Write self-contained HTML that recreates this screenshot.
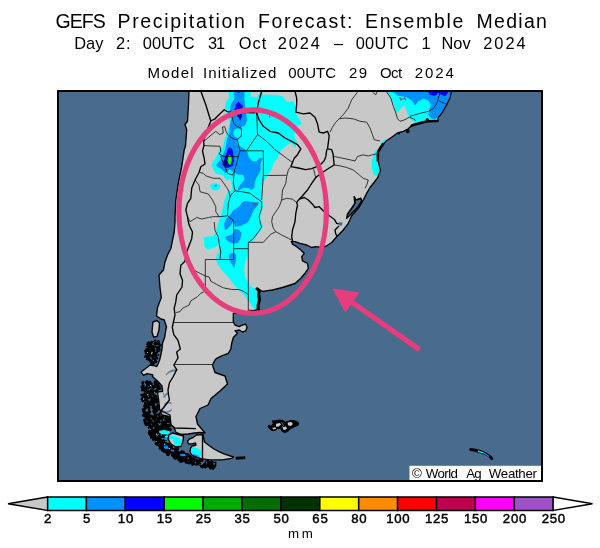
<!DOCTYPE html><html><head><meta charset="utf-8"><title>GEFS Precipitation Forecast</title><style>
html,body{margin:0;padding:0;background:#fff}
body{width:600px;height:548px;position:relative;overflow:hidden;font-family:"Liberation Sans",sans-serif;color:#000}
.t{position:absolute;white-space:nowrap;line-height:1;color:#000}
.c{transform:translateX(-50%)}
svg{position:absolute;left:0;top:0}
</style></head><body>
<svg width="600" height="548" viewBox="0 0 600 548">
<rect x="58" y="91" width="484" height="390" fill="#496c8e"/>
<defs><clipPath id="land"><path d="M189,90 L188.5,104 L187.5,121 L185,124.5 L186.7,129.5 L185.5,146 L184.2,150 L181.7,166.7 L178.3,183.3 L175.8,200 L175,216.7 L175,222 L174.2,232 L172.5,240.3 L170.8,248.7 L167.5,255 L165,262 L163.5,270 L159,275 L160,287.5 L161.3,297.5 L157.5,307.5 L156.5,316 L161,319 L164.3,320 L166.5,327 L165.8,330 L164.6,337.7 L162.6,342.8 L162,349 L160.7,355.5 L159.5,360.6 L156.9,366.5 L155,365.8 L150,365 L146,368.3 L141,372 L143.5,375.3 L147.3,373.6 L152.8,374.9 L152.4,376.5 L157.5,381 L162,386 L162.6,391.3 L157.5,392 L158.8,401 L159.5,408.7 L162,415 L169,416.3 L170.3,424 L174.1,427.8 L176,432.5 L181,434.5 L188,434 L195,433 L200,432.5 L205,433 L197.5,424 L196,416.5 L200,408.5 L208,405 L211,398.5 L220,391 L227.5,384 L225,376 L215,372.5 L212.5,365 L215,360 L216.7,358.3 L221.7,355.8 L228.3,353.3 L230.8,349.2 L231.7,343.3 L233.3,337.5 L237.5,333.3 L235,330.8 L239.2,330 L242.5,332 L245.8,330.8 L247,327.5 L245.8,324.2 L242.5,325 L239.2,326.7 L235,325 L233.3,321.7 L233.3,313.3 L245,312 L257,310 L258,305 L260,297.5 L258,289.5 L262.5,291.3 L272.5,290 L282.5,287.5 L295,283.5 L300.8,278.3 L305,273.3 L308.3,268.3 L307.5,263.3 L302.5,260.8 L301.7,256.7 L304.2,253.3 L300.8,250 L296.7,246.7 L292.5,244.2 L291.3,241.5 L295,241.7 L300,243.3 L306.7,245 L311.7,247.5 L315.8,246.7 L321.7,247.5 L326.7,245.8 L331.7,242.5 L336.7,236.7 L343.3,230 L348.3,223.3 L351.7,215.8 L358.3,208.3 L363.3,200 L366.7,193.3 L370,187.5 L372.5,184.5 L377.5,178 L380.5,170.5 L378.3,161.3 L377.5,154.7 L379.2,149.7 L382.5,145.5 L385.8,141.3 L391.7,137.2 L397.5,133 L403.3,131.3 L408.3,128.8 L411.7,125.5 L416.7,123.8 L423.3,122.2 L428.3,121.3 L437.5,121.3 L438.3,117.2 L442.5,112.2 L446.7,104.7 L450,98 L451.7,90Z"/><path d="M203,434.5 L196.5,435 L193.5,437.3 L189.8,438.8 L187.5,441 L188.5,444 L192,443.8 L195.5,443 L196,445 L192,446 L190.5,448 L190,452 L192,455.5 L197,457.5 L202,458.8 L210,459.8 L222,459.8 L231.8,458.3 L233.5,457 L229,455.5 L224,453.8 L219,451.6 L214,449 L209,445.5 L204.5,442 L203.5,437Z"/><path d="M236,457.3 L245,456.8 L245,458.6 L236,459.2Z"/><path d="M153,322 L157,320.5 L159.5,323 L159,330 L157,336.5 L153.5,337 L152,332 L152.5,326Z"/><path d="M172.5,433 L180,435 L183.5,436 L183,441 L181,446.5 L176,447 L171,444 L168,439 L169,435Z"/></clipPath><clipPath id="frame"><rect x="58" y="91" width="484" height="390"/></clipPath></defs>
<g clip-path="url(#frame)">
<path d="M189,90 L188.5,104 L187.5,121 L185,124.5 L186.7,129.5 L185.5,146 L184.2,150 L181.7,166.7 L178.3,183.3 L175.8,200 L175,216.7 L175,222 L174.2,232 L172.5,240.3 L170.8,248.7 L167.5,255 L165,262 L163.5,270 L159,275 L160,287.5 L161.3,297.5 L157.5,307.5 L156.5,316 L161,319 L164.3,320 L166.5,327 L165.8,330 L164.6,337.7 L162.6,342.8 L162,349 L160.7,355.5 L159.5,360.6 L156.9,366.5 L155,365.8 L150,365 L146,368.3 L141,372 L143.5,375.3 L147.3,373.6 L152.8,374.9 L152.4,376.5 L157.5,381 L162,386 L162.6,391.3 L157.5,392 L158.8,401 L159.5,408.7 L162,415 L169,416.3 L170.3,424 L174.1,427.8 L176,432.5 L181,434.5 L188,434 L195,433 L200,432.5 L205,433 L197.5,424 L196,416.5 L200,408.5 L208,405 L211,398.5 L220,391 L227.5,384 L225,376 L215,372.5 L212.5,365 L215,360 L216.7,358.3 L221.7,355.8 L228.3,353.3 L230.8,349.2 L231.7,343.3 L233.3,337.5 L237.5,333.3 L235,330.8 L239.2,330 L242.5,332 L245.8,330.8 L247,327.5 L245.8,324.2 L242.5,325 L239.2,326.7 L235,325 L233.3,321.7 L233.3,313.3 L245,312 L257,310 L258,305 L260,297.5 L258,289.5 L262.5,291.3 L272.5,290 L282.5,287.5 L295,283.5 L300.8,278.3 L305,273.3 L308.3,268.3 L307.5,263.3 L302.5,260.8 L301.7,256.7 L304.2,253.3 L300.8,250 L296.7,246.7 L292.5,244.2 L291.3,241.5 L295,241.7 L300,243.3 L306.7,245 L311.7,247.5 L315.8,246.7 L321.7,247.5 L326.7,245.8 L331.7,242.5 L336.7,236.7 L343.3,230 L348.3,223.3 L351.7,215.8 L358.3,208.3 L363.3,200 L366.7,193.3 L370,187.5 L372.5,184.5 L377.5,178 L380.5,170.5 L378.3,161.3 L377.5,154.7 L379.2,149.7 L382.5,145.5 L385.8,141.3 L391.7,137.2 L397.5,133 L403.3,131.3 L408.3,128.8 L411.7,125.5 L416.7,123.8 L423.3,122.2 L428.3,121.3 L437.5,121.3 L438.3,117.2 L442.5,112.2 L446.7,104.7 L450,98 L451.7,90Z" fill="#c8c8c8"/>
<path d="M203,434.5 L196.5,435 L193.5,437.3 L189.8,438.8 L187.5,441 L188.5,444 L192,443.8 L195.5,443 L196,445 L192,446 L190.5,448 L190,452 L192,455.5 L197,457.5 L202,458.8 L210,459.8 L222,459.8 L231.8,458.3 L233.5,457 L229,455.5 L224,453.8 L219,451.6 L214,449 L209,445.5 L204.5,442 L203.5,437Z" fill="#c8c8c8"/>
<path d="M236,457.3 L245,456.8 L245,458.6 L236,459.2Z" fill="#c8c8c8"/>
<path d="M153,322 L157,320.5 L159.5,323 L159,330 L157,336.5 L153.5,337 L152,332 L152.5,326Z" fill="#c8c8c8"/>
<path d="M172.5,433 L180,435 L183.5,436 L183,441 L181,446.5 L176,447 L171,444 L168,439 L169,435Z" fill="#c8c8c8"/>
<g clip-path="url(#land)">
<path d="M227.8,90 L229.3,97 L226.3,101.5 L224.8,107.5 L227,114 L230,122.5 L227.8,130 L224.8,139 L222.5,148 L220.5,147 L217,155.2 L211.2,165 L215.8,173.8 L222.8,175 L226.9,180.8 L229.8,178.5 L232.2,184.3 L231.6,191.3 L228.3,190 L225.7,196.7 L223.7,203.3 L222.3,210 L220.3,216.7 L218.3,223.3 L216.3,230 L213.7,236 L203.7,237.3 L204.3,246 L207.7,250 L215,247.3 L218.3,244.7 L219.7,250 L217.7,253 L216.3,256.7 L217,263.3 L221.7,270 L227.7,276.7 L233,283.3 L239,290 L244.3,295.3 L248.3,300.7 L252.3,306 L255,311 L259,311 L259,288.7 L255,288.7 L251,286.7 L247.7,282 L245,276.7 L244.3,270 L245,263.3 L247,256.7 L248.3,250 L248.3,243.3 L252.3,242 L255.7,236.7 L260.3,231.3 L263,226 L260.3,219.3 L261,212.7 L263,206 L262.3,198 L261.7,190 L262.5,186.7 L263.7,180.8 L267.2,176.2 L271.8,169.2 L273.6,163.3 L277.7,157.5 L281,150 L286,146 L291,142.5 L295.3,148 L297,142 L294.5,137.5 L294.5,131.5 L296.8,125.5 L300.5,125.5 L301.3,122.5 L296.8,115 L296,106 L293,101.5 L287,102.3 L282.5,96.3 L275,94.8 L264.5,94.8 L260,94 L258.5,94 L257,97.8 L251,96.3 L250.3,90Z" fill="#00ffff"/>
<path d="M210,186 L212,183.5 L216,183.2 L220,185 L220.5,188 L217,190.2 L212,190Z" fill="#00ffff"/>
<path d="M214.6,185 L216.5,184.6 L217.2,186 L216,187 L214.8,186.6Z" fill="#0091ff"/>
<path d="M233,90 L234.5,98.5 L230.8,104.5 L230,110.5 L231.5,118 L230,125 L229.3,134.5 L227,139 L225.5,148 L224,151.7 L221.7,157.5 L218.2,162.2 L215.8,165.7 L221.7,169.2 L225.2,173.3 L229.8,169.2 L232.2,171.5 L234.5,172.7 L238,174.4 L243.3,175 L244.4,179.7 L241.5,183.2 L238.6,186.7 L238,190.8 L243.8,187.8 L248.5,187.8 L251.4,190.2 L254.3,187.8 L254.9,182 L256.7,177.3 L259,173.8 L260.8,169.2 L260.2,164.5 L262.5,158.7 L260.2,157.5 L256.7,161 L252.6,161.6 L249,157.5 L247.3,151.7 L243.8,148.2 L238,145.8 L236.5,142 L237.5,139.5 L241.3,136 L242,131.5 L240.5,127.8 L245,125.5 L247.3,119.5 L245.8,112 L245,104.5 L244.3,97 L245,90Z" fill="#0091ff"/>
<path d="M234.5,129.5 L238,128.3 L241.3,130 L241.2,135 L238,138 L234.8,137 L233.2,133Z" fill="#00ffff"/>
<path d="M238.3,101.5 L242.8,106 L242,113.5 L240.5,120.3 L237.5,116.5 L234.5,109 L236,104.5Z" fill="#0000ff"/>
<path d="M237,90 L237.5,92.5 L239.5,92.7 L240,90Z" fill="#0000ff"/>
<path d="M237.5,114.3 L240.2,120.7 L242.8,114.3 L240.5,116.5Z" fill="#000082"/>
<path d="M269,115.5 L270.5,115.5 L270.5,117.5 L269,117.5Z" fill="#0091ff"/>
<path d="M229.3,147.6 L232.2,148.8 L233.3,154 L233.9,161 L232.8,165.7 L228.7,167.4 L225.2,168 L222.3,164.5 L224,159.8 L226.3,154 L227.5,149.3Z" fill="#0000ff"/>
<path d="M225,158.5 L227,160 L227.3,166 L225,167.5 L223.3,164.3Z" fill="#000082"/>
<path d="M229.8,154.6 L231.6,157.5 L231.9,161 L230.4,164.7 L228.7,163.9 L227.5,160.4 L228.4,156.3Z" fill="#00ff00"/>
<path d="M229.8,157.5 L230.8,160 L229.8,162.5 L228.9,160Z" fill="#78ff00"/>
<path d="M245,200.7 L252.3,202 L259,202.7 L257.7,205.3 L253.7,210 L251,216.7 L247.7,222.7 L240.3,226 L235,226.7 L233.7,221.3 L230.3,226 L227,229.3 L225,230 L224,224.7 L225.7,219.3 L229.7,215.3 L233.7,210 L239,206.7 L241.7,202.7Z" fill="#0091ff"/>
<path d="M234.3,229.3 L238.3,229.3 L241.7,232.7 L240.3,239.3 L237.7,243.3 L232.3,243.3 L227.7,241.3 L225,237.3 L227,236 L231.7,234.7 L233.7,232Z" fill="#0091ff"/>
<path d="M229,255.3 L231,253.3 L234.3,252.7 L236.3,255.3 L235.7,262 L234.3,268 L231.7,264 L229,260Z" fill="#0091ff"/>
<path d="M385.8,90 L390.8,98 L394.2,104.7 L395.8,113 L399.2,111.3 L401.7,107.2 L405,105.5 L406.7,111.3 L409.2,118 L413.3,121.3 L417.5,124 L430,123 L440,123 L455,110 L455,90Z" fill="#00ffff"/>
<path d="M390.8,90 L397.5,95.5 L406.7,97.2 L411.7,100.5 L415,105.5 L418.3,101.3 L423.3,98.8 L428.3,100.5 L430.8,104.7 L429.2,109.7 L428.3,114.7 L431.7,118.8 L435.8,118.8 L439.2,114.7 L444.2,111.3 L455,100 L455,90Z" fill="#0091ff"/>
<path d="M426.7,90 L430,94.7 L435,96 L438.3,93 L441.7,94.7 L445,96.3 L448.3,92.2 L449,90Z" fill="#0000ff"/>
<path d="M379,150 L381,143 L385,138.5 L388,140.5 L384,147 L381,151Z" fill="#00ffff"/>
<path d="M374,153 L378,148 L381,151 L380,163 L381,171 L378,176 L374,175 L371.5,168 L372,160Z" fill="#00ffff"/>
<path d="M190.5,447 L196,447.5 L201.8,451 L203,455.3 L199,456 L193,453.5 L190,450Z" fill="#00ffff"/>
<path d="M189,453.8 L194,454 L199.5,456 L199,458.5 L193,458 L189,456Z" fill="#0091ff"/>
<path d="M172.5,438 L178,437.5 L181.5,440 L181,446 L177,447 L174,444Z" fill="#00ffff"/>
</g>
<path d="M252.5,203 L258.5,202.5 L256.5,205.5 L254.5,206Z" fill="#5a6478"/>
<path d="M399,97 L400.3,97 L401.2,98.6 L403.8,98 L404,96.8 L405.2,96.8 L406.2,100.6 L405,100.6 L404.3,99.2 L401.5,99.8 L401.8,100.8 L400.5,100.8Z" fill="#66748a"/>
<path d="M146.6,343.4 145.9,344.3 146.2,345.0 147.3,345.3 146.8,346.1 146.2,345.7 145.3,346.5 146.2,347.3 147.0,346.6 147.1,346.8 146.3,348.2 145.5,348.3 145.0,349.9 144.1,350.1 143.8,350.8 144.1,351.5 144.8,351.8 145.5,351.4 145.8,351.5 144.8,351.8 144.6,352.4 144.8,354.0 145.7,354.3 146.8,354.1 146.6,354.8 145.9,354.5 144.6,355.0 144.2,356.9 144.6,357.7 145.4,358.1 147.1,357.6 146.2,358.0 145.8,358.9 146.2,359.9 147.4,360.5 148.1,360.2 148.9,361.5 149.8,361.8 149.6,362.3 150.4,364.2 152.9,365.6 154.1,365.1 154.5,363.7 156.9,362.7 157.4,361.5 156.9,360.2 155.9,359.8 156.3,359.4 157.0,359.7 157.9,359.3 158.6,358.1 158.3,357.4 157.0,357.1 157.5,355.9 157.0,354.6 156.5,354.4 157.8,353.4 158.2,352.4 157.9,351.7 159.0,352.0 160.2,351.5 160.8,348.9 160.5,348.2 159.9,348.0 159.8,347.3 161.2,346.6 161.7,345.4 161.2,344.1 160.4,343.8 159.9,342.7 159.5,342.5 159.9,341.6 159.4,340.5 158.2,340.0 157.0,340.5 156.5,341.6 156.7,342.1 156.3,342.3 155.1,341.8 153.9,342.3 153.4,343.5 153.9,344.7 155.1,345.2 156.6,344.9 158.3,345.1 158.5,346.2 156.6,345.8 155.6,345.2 154.8,345.6 154.5,346.2 154.2,345.3 151.7,344.7 152.4,344.4 152.7,342.8 153.1,342.3 153.9,342.1 154.1,341.5 153.9,340.9 153.3,340.7 152.5,341.3 151.6,340.7 150.8,341.0 149.9,342.2 149.6,341.4 148.7,341.0 147.9,341.4 147.5,342.2 146.6,342.3ZM153.0,361.8 152.6,360.2 150.7,359.2 150.1,358.3 150.4,357.7 150.2,356.4 150.7,356.2 151.0,357.1 151.6,357.4 151.5,358.4 151.9,359.4 153.4,360.1 153.9,359.9 154.4,360.4 153.3,360.9ZM147.5,349.2 148.1,349.5 147.9,350.0ZM149.4,347.9 150.6,347.9 150.1,348.4ZM150.6,345.1 150.4,344.8 151.1,344.9ZM156.1,357.5 156.0,357.7 155.8,357.6ZM154.3,357.7 154.5,357.1 155.1,357.4ZM154.6,351.3 155.5,350.7 155.8,349.9 154.6,348.3 154.6,347.7 155.6,347.8 156.4,348.9 156.1,349.6 156.6,351.2 155.9,351.6ZM154.2,346.9 154.2,347.0 154.0,346.9ZM154.2,357.8 154.2,357.8 154.2,357.8ZM156.1,341.4 156.5,340.6 156.1,339.7 155.2,339.3 154.3,339.7 153.9,340.6 154.3,341.4 155.2,341.8ZM159.2,355.7 159.4,355.0 159.2,354.4 158.5,354.1 157.8,354.4 157.5,355.0 157.8,355.7 158.5,356.0Z" fill="#000"/><path d="M144.6,382.1 146.0,384.8 145.6,386.9 144.6,386.8 144.9,385.9 144.5,384.9 143.5,384.5 144.4,382.4 144.0,381.3 142.9,380.9 141.9,381.3 141.3,382.4 141.6,384.7 142.5,385.1 140.8,385.8 140.3,387.1 141.3,388.9 141.0,390.6 141.3,391.3 142.0,391.6 142.9,390.9 143.7,391.2 143.4,391.9 144.2,392.8 143.4,393.6 140.5,394.2 140.2,395.0 140.5,395.7 141.4,396.0 141.8,396.7 141.8,397.5 140.9,397.9 140.4,399.1 140.9,400.3 141.4,400.5 141.7,402.0 142.8,402.4 143.8,402.0 144.1,401.3 145.2,401.4 144.1,402.3 143.8,403.0 144.3,403.8 144.2,404.6 143.6,404.8 143.1,406.1 143.6,407.5 144.1,407.8 143.6,408.3 143.1,408.1 142.0,408.5 141.6,409.6 142.3,412.5 143.1,412.8 142.9,414.0 142.4,414.2 141.9,415.4 142.4,416.6 144.3,417.4 145.1,417.0 145.3,417.4 144.9,417.5 144.8,418.3 143.5,418.9 143.0,420.2 143.5,421.4 143.9,421.6 143.6,422.4 144.8,425.6 146.2,426.2 147.0,425.8 148.0,426.3 148.9,425.9 149.0,426.2 148.1,426.6 147.7,427.5 148.1,428.4 148.9,428.7 149.8,428.3 150.4,428.7 149.9,428.9 149.5,430.0 148.3,430.0 148.1,430.6 148.9,431.5 149.7,430.9 150.6,431.0 150.8,431.6 150.1,431.3 149.4,431.6 148.6,432.6 148.2,433.7 148.6,434.7 149.1,434.9 149.3,436.1 151.5,436.8 152.8,436.2 153.1,435.4 154.3,434.9 155.1,433.6 156.5,433.1 158.5,433.3 159.6,432.9 160.6,432.4 161.4,430.7 161.9,430.9 162.8,430.5 163.1,429.9 165.1,433.6 166.2,434.1 168.7,433.4 169.1,432.5 168.7,430.6 170.2,431.2 171.4,430.7 171.8,429.5 171.4,428.4 170.3,427.6 168.9,427.3 169.4,426.6 170.2,426.9 171.0,426.6 171.4,425.8 170.9,424.5 168.6,423.7 167.0,424.2 166.9,423.2 169.4,422.8 169.8,421.9 169.0,420.7 169.6,420.5 170.1,419.2 169.6,417.9 168.2,417.4 167.7,416.3 166.3,415.7 165.0,416.3 164.5,417.6 164.7,418.3 164.0,420.0 164.2,420.6 165.0,420.9 164.4,421.2 162.8,420.2 161.6,420.7 161.0,422.0 161.5,423.2 161.0,423.4 160.9,424.5 160.4,424.7 160.0,426.3 159.7,425.6 158.7,425.0 158.2,423.8 157.5,423.5 158.5,422.9 159.2,423.4 160.8,423.2 161.1,422.6 160.5,421.2 159.7,420.8 159.7,419.9 161.4,420.6 162.6,420.1 163.0,419.0 164.2,418.8 164.6,418.0 163.9,417.1 164.4,416.1 164.0,415.2 163.0,414.8 162.1,415.2 161.8,415.7 160.6,415.3 160.0,414.2 160.6,413.9 160.9,413.2 160.6,412.5 159.9,412.1 159.1,412.5 158.8,413.2 155.9,414.1 156.3,412.7 157.9,412.0 158.0,410.7 158.9,410.4 159.7,408.5 158.8,404.2 156.7,403.4 155.6,403.8 155.4,404.3 155.0,403.8 154.9,403.5 155.8,402.8 157.2,403.4 158.6,402.8 159.0,401.6 158.2,398.5 156.7,398.0 157.6,396.8 157.1,395.8 156.5,395.5 156.2,394.7 155.5,394.4 154.7,394.9 154.3,394.1 154.9,392.6 156.0,393.1 156.8,392.7 157.1,391.9 158.0,391.7 158.2,390.5 160.8,389.4 161.2,388.4 160.5,387.2 160.6,386.5 160.2,385.6 159.1,385.2 159.6,384.0 159.4,383.4 157.2,382.5 157.5,381.9 157.3,381.3 156.4,381.2 156.2,380.7 155.1,380.3 154.0,380.7 153.6,381.8 153.9,382.5 153.6,383.2 154.2,384.5 153.0,385.4 152.7,384.7 153.0,383.9 152.7,383.1 151.9,382.8 151.0,381.0 149.8,380.5 148.6,381.2 148.3,380.4 147.2,380.0 146.1,380.4 145.8,381.2 144.9,381.3ZM152.3,424.2 150.5,425.1 151.3,423.2 151.6,423.9ZM152.5,421.5 152.4,419.7 153.6,419.8 153.3,420.6 153.5,421.2 154.5,422.0 153.7,422.5ZM151.4,419.0 150.3,419.6 149.7,419.2 150.6,418.9 150.9,418.1 151.8,418.0 151.9,419.2ZM151.7,414.7 150.0,414.4 149.9,413.7 150.6,413.4 151.6,412.0 150.0,410.1 150.6,408.6 150.1,407.7 150.4,406.9 149.9,405.8 152.0,406.6 151.5,407.7 152.1,409.1 153.1,409.5 152.2,411.0 153.4,414.3 154.0,414.6 153.2,415.5 151.9,415.2ZM154.9,397.9 154.8,397.3 155.0,397.8ZM153.8,390.2 153.8,389.1 155.2,388.5 155.5,387.8 155.9,387.6 156.4,388.0 156.3,388.9 155.5,389.6ZM147.0,412.4 146.6,411.4 145.4,411.0 145.2,410.2 145.8,410.0 146.2,408.9 147.2,408.3 148.0,408.6 147.7,409.4 148.5,410.5 147.3,411.5 147.0,412.2 147.2,412.9 146.9,413.0ZM149.9,400.9 147.7,400.1 147.3,399.2 148.0,399.5 149.3,399.0 150.0,397.8 150.6,399.1 150.2,400.1 150.5,400.8ZM150.5,394.8 150.7,395.4 151.1,395.6 150.7,395.8 150.1,394.9ZM148.1,392.1 148.0,392.4 147.9,392.0ZM148.6,390.0 147.7,390.5 147.0,390.2 147.3,389.6 149.4,389.4 149.7,388.8 149.4,388.2 149.8,388.0 150.7,388.7 151.5,388.4 151.8,387.6 151.0,386.3 151.1,386.1 152.1,386.6 151.8,387.2 152.4,388.5 150.2,389.4 149.8,390.4ZM149.4,385.2 150.2,385.1 151.2,384.8 150.9,385.5ZM147.1,401.3 146.7,402.1 147.2,402.9 146.4,403.0 146.6,402.3 146.3,401.6ZM145.6,397.9 146.3,397.9 146.6,398.7 145.8,398.5ZM145.2,392.0 145.8,391.9 145.6,392.9 144.9,392.6ZM146.1,391.6 146.1,391.5 146.1,391.6ZM145.4,390.3 146.2,390.5 146.1,390.8ZM145.1,388.8 145.7,388.6 145.7,388.5 145.8,388.6 145.3,389.3ZM143.4,396.8 143.5,396.9 143.3,396.9ZM143.8,387.5 143.7,387.5 144.0,387.1ZM146.2,418.3 146.5,418.4 146.3,418.6ZM147.6,418.2 147.6,418.2 147.6,418.2ZM152.1,395.4 153.2,395.8 153.0,396.4 152.4,396.5 151.4,395.7ZM155.4,430.1 156.0,429.9 155.7,430.8ZM157.8,429.1 157.9,429.4 157.3,429.3 157.4,429.3ZM155.7,419.5 156.1,418.8 156.5,419.7 157.2,420.0 156.5,420.5ZM156.1,418.0 155.9,417.6 156.5,416.9 156.5,417.0ZM156.4,407.8 155.9,407.5 156.5,407.2ZM155.3,411.0 155.4,411.0 155.2,411.3ZM162.6,417.3 162.4,417.7 162.3,417.5ZM158.9,427.5 158.7,427.6 158.7,427.4ZM159.2,427.6 159.0,427.5 159.3,427.4ZM165.9,428.3 165.6,429.0 165.8,427.8 166.5,428.0Z" fill="#000"/><path d="M150.4,431.1 149.6,430.8 148.2,431.4 147.6,432.8 148.2,434.2 149.3,434.6 149.6,435.8 150.4,436.1 149.7,437.3 150.1,438.4 151.2,438.8 152.2,438.4 151.8,439.4 152.2,440.5 153.3,440.9 155.9,439.6 154.9,440.2 154.5,441.2 154.9,442.2 155.6,442.4 155.0,442.7 154.5,443.8 155.0,445.0 157.2,445.9 158.0,445.6 158.9,447.2 158.5,448.2 158.9,449.2 159.9,449.7 161.0,449.3 160.7,450.1 161.2,451.4 162.9,451.8 163.1,452.4 164.2,452.9 164.7,452.7 165.9,453.4 166.5,453.2 166.1,454.4 166.7,455.7 168.0,456.3 169.3,455.7 170.5,453.4 170.2,452.5 171.0,453.8 170.7,454.5 171.4,456.2 171.7,456.8 172.8,456.9 172.6,457.3 173.6,459.3 175.5,460.0 176.6,459.5 177.1,458.4 177.6,458.8 177.3,459.6 177.8,461.0 179.3,461.5 179.7,462.4 181.0,463.0 183.4,462.1 184.5,462.6 185.0,462.4 185.3,463.4 186.1,463.8 186.9,463.4 187.2,462.6 187.0,462.1 187.6,461.9 188.0,460.9 190.0,460.3 190.5,459.2 189.9,458.0 190.4,457.8 190.8,456.9 190.4,456.0 189.5,455.6 188.8,455.9 188.6,455.2 185.3,453.9 185.8,453.2 185.5,452.6 184.5,452.6 184.8,451.9 184.4,451.0 181.7,450.2 180.5,450.7 180.1,451.6 178.8,451.4 178.2,450.8 179.1,449.6 178.5,447.6 177.5,447.2 176.0,447.6 175.5,447.3 173.5,447.9 173.2,448.5 172.7,447.8 173.2,446.6 172.8,445.5 171.6,445.0 170.9,445.3 169.9,443.3 168.6,442.8 167.3,443.5 167.1,442.1 165.0,442.0 164.9,441.6 165.7,441.0 166.8,440.7 167.2,439.8 166.8,438.8 165.9,438.5 164.9,438.8 164.8,439.3 163.3,438.7 162.1,439.5 161.4,439.2 161.7,438.2 162.4,437.7 164.3,438.4 165.6,437.9 166.1,436.6 165.7,435.5 166.4,435.2 166.9,433.9 166.4,432.6 165.1,432.0 164.1,432.4 162.6,431.7 162.3,431.8 161.5,430.2 160.5,429.8 159.4,430.2 158.9,431.3 159.4,432.4 161.0,433.0 160.9,434.1 159.8,433.1 158.6,433.1 158.4,433.7 159.0,434.4 158.2,435.8 157.1,435.9 156.5,436.7 155.3,436.6 156.2,436.2 156.7,435.0 155.9,433.7 156.3,433.4 156.6,434.1 157.4,434.4 158.1,434.1 158.4,433.3 158.1,431.8 157.5,431.5 156.8,432.0 157.0,431.2 156.4,429.8 155.2,429.3 154.1,429.8 153.3,431.8 153.0,431.6 153.7,430.4 153.3,429.4 151.5,429.0 150.5,429.5 150.1,430.5ZM163.1,448.5 163.3,447.9 163.3,447.4 163.7,447.7ZM158.5,444.0 160.0,443.4 160.1,443.5 159.9,443.9 158.7,444.4ZM151.3,432.1 152.1,432.2 152.2,433.3 151.6,433.6 151.3,434.2 151.0,434.0 151.5,432.8ZM152.0,436.0 151.2,435.8 151.4,435.4 151.6,435.8ZM165.2,443.8 165.0,444.2 164.7,444.2 164.7,443.6ZM174.0,453.5 174.2,453.9 173.9,454.0 173.9,453.9ZM170.1,449.0 169.9,449.4 169.5,449.3ZM170.3,448.6 170.4,448.3 170.4,448.5ZM178.2,456.3 178.8,456.7 178.1,456.4ZM180.8,453.8 180.8,453.4 181.3,453.6ZM182.4,453.5 184.2,452.8 184.3,453.7 183.4,454.1ZM184.9,458.3 184.7,457.8 185.2,457.5 185.3,457.6ZM185.1,458.8 184.9,458.7 185.0,458.5ZM183.5,459.2 183.5,459.2 183.5,459.2ZM182.9,453.9 183.4,455.2 185.3,455.9 185.0,456.5 185.5,457.7 186.3,458.0 185.9,458.7 186.4,459.5 184.9,460.1 184.7,460.7 185.3,463.1 187.0,464.1 188.0,463.7 188.2,464.2 189.2,464.6 190.2,464.2 191.1,464.3 191.5,465.4 192.7,465.9 195.1,464.7 195.3,465.3 196.6,465.8 197.8,465.3 198.0,464.7 198.6,465.5 199.5,465.9 200.2,465.6 199.9,466.4 200.3,467.6 202.6,468.6 203.9,467.9 204.9,468.5 205.8,468.4 208.0,467.0 208.2,467.6 209.0,467.9 209.4,469.2 210.5,469.6 211.6,469.2 212.2,468.0 211.9,468.9 212.3,469.7 213.1,470.1 214.0,469.7 214.3,468.8 215.6,467.8 215.9,466.3 216.7,465.4 216.2,464.5 216.6,463.8 216.1,463.1 216.6,462.3 216.3,461.5 215.6,461.2 214.2,461.9 213.9,462.5 214.2,463.2 214.9,463.4 214.8,464.1 214.0,463.5 213.5,461.1 211.1,460.6 210.1,461.0 209.1,460.7 208.8,459.9 207.6,459.4 206.5,459.9 206.2,460.8 204.8,461.0 204.5,461.7 204.8,462.3 203.7,462.7 203.2,464.0 202.1,464.4 201.9,465.0 200.6,465.2 201.2,463.5 200.3,462.2 203.1,461.5 203.5,460.5 203.1,459.5 202.0,459.0 201.0,459.5 199.7,458.9 198.5,459.4 197.4,459.3 197.1,458.7 195.5,458.4 194.5,457.4 193.4,456.9 192.6,457.2 192.1,457.0 191.8,456.3 191.0,455.9 190.6,455.0 189.8,454.7 189.5,454.0 187.1,452.7 186.6,452.9 184.6,452.2 183.4,452.7ZM195.0,463.7 194.7,461.8 196.3,461.7ZM188.3,462.2 188.3,462.2 188.3,462.2ZM189.5,457.8 189.1,457.9 188.5,457.7 189.3,457.4ZM194.3,461.7 193.6,461.4 192.9,461.6 193.6,461.3ZM196.8,461.3 197.6,461.2 196.8,461.4ZM205.8,462.6 206.6,462.1 207.3,462.4 207.1,463.6 206.6,464.4 206.7,464.0Z" fill="#000"/><circle cx="151.7" cy="353.7" r="0.68" fill="#c8c8c8"/><circle cx="152.0" cy="352.4" r="0.58" fill="#c8c8c8"/><circle cx="147.5" cy="352.5" r="0.6" fill="#c8c8c8"/><circle cx="150.7" cy="385.5" r="0.69" fill="#c8c8c8"/><circle cx="147.0" cy="393.9" r="0.46" fill="#c8c8c8"/><circle cx="156.0" cy="404.9" r="0.7" fill="#c8c8c8"/><circle cx="157.8" cy="416.0" r="0.6" fill="#c8c8c8"/><circle cx="148.3" cy="396.5" r="0.47" fill="#c8c8c8"/><circle cx="143.6" cy="399.0" r="0.74" fill="#c8c8c8"/><circle cx="148.9" cy="386.1" r="0.47" fill="#c8c8c8"/><circle cx="147.0" cy="421.1" r="0.49" fill="#c8c8c8"/><circle cx="154.6" cy="392.3" r="0.53" fill="#c8c8c8"/><circle cx="150.7" cy="429.6" r="0.51" fill="#c8c8c8"/><circle cx="153.7" cy="427.9" r="0.64" fill="#c8c8c8"/><circle cx="147.8" cy="394.8" r="0.68" fill="#c8c8c8"/><circle cx="162.8" cy="439.0" r="0.44" fill="#c8c8c8"/><circle cx="164.7" cy="444.3" r="0.69" fill="#c8c8c8"/><circle cx="169.5" cy="448.4" r="0.66" fill="#c8c8c8"/><circle cx="156.5" cy="434.2" r="0.67" fill="#c8c8c8"/><circle cx="161.3" cy="434.9" r="0.62" fill="#c8c8c8"/><circle cx="156.2" cy="441.5" r="0.58" fill="#c8c8c8"/><circle cx="188.3" cy="458.2" r="0.57" fill="#c8c8c8"/><circle cx="206.8" cy="461.9" r="0.39" fill="#c8c8c8"/><circle cx="214.0" cy="463.9" r="0.59" fill="#c8c8c8"/><circle cx="199.9" cy="464.4" r="0.44" fill="#c8c8c8"/><path d="M159,430.8 L164,430 L169.5,431.2 L169,434.3 L163,434.5 L159.5,433Z" fill="#00ffff"/><path d="M165,436 L172,435.8 L178.5,437 L178,438.8 L170,439 L165.5,438Z" fill="#00ffff"/><path d="M164,437.5 L168,437 L170,439 L168.5,440.5 L164.5,440Z" fill="#0091ff"/><path d="M164,445.5 L168,445.8 L168.8,448.5 L166,449.3 L164,448Z" fill="#0091ff"/><path d="M171,449.5 L174,450 L174,451.5 L171,451.3Z" fill="#0091ff"/><path d="M180,453.8 L185,454 L186,456 L182,456.3 L180,455.3Z" fill="#0091ff"/><path d="M165.5,375 Q168,370.5 173,369.5 L178.5,369.3 L176.5,371 Q170,371.5 166.5,375.3Z" fill="#5b7fa6"/><path d="M162.8,397.5 Q165,393.5 167.5,392.3 L168.8,394 Q166,395 164.2,397.8Z" fill="#5b7fa6"/><path d="M164.3,404.8 Q168,401 171.6,403.6" stroke="#5b7fa6" stroke-width="1.3" fill="none"/><path d="M160.8,408.5 Q166,413.5 172,409 L171.5,411 Q166,415 161.5,411Z" fill="#5b7fa6"/><path d="M163,392.5 L165,397.5" stroke="#5b7fa6" stroke-width="1" fill="none"/>
<path d="M204,141.3 L210,136 L215.8,131.3 L219.5,134.5 L223.3,133 L222.5,127 L224.8,126.7 L226.3,132.3 L229.3,136 L233.8,139 L237.5,139.8 L241.3,136 L241.7,128.5 L236.8,126.3 L233.8,123.3 L232.3,118 L231,113" fill="none" stroke="#1a1a1a" stroke-width="0.85" stroke-linejoin="round"/>
<path d="M237.5,139.8 L238.5,145 L240,150.8" fill="none" stroke="#1a1a1a" stroke-width="0.85" stroke-linejoin="round"/>
<path d="M204,145.5 L212,146 L220,146.3 L220.8,151.3 L219,153.8 L224,156.3 L238.3,156.7" fill="none" stroke="#1a1a1a" stroke-width="0.85" stroke-linejoin="round"/>
<path d="M256.7,113 L257.5,134.7 L246.7,150.5" fill="none" stroke="#1a1a1a" stroke-width="0.85" stroke-linejoin="round"/>
<path d="M240,150.8 L263.3,150.8 L263.3,175 L261.7,200" fill="none" stroke="#1a1a1a" stroke-width="0.85" stroke-linejoin="round"/>
<path d="M258,134.7 L266.7,141.3 L275,149.7 L280,153.3 L286.7,158.3 L292.5,162.5" fill="none" stroke="#1a1a1a" stroke-width="0.85" stroke-linejoin="round"/>
<path d="M240,150.8 L238.3,156.7 L236.7,163.3 L234.2,171.7 L233.3,183.3 L235,190.8 L241.7,191.7 L250,193.3 L256.7,198.3 L261.7,201.7" fill="none" stroke="#1a1a1a" stroke-width="0.85" stroke-linejoin="round"/>
<path d="M220.8,155.8 L225,156.7" fill="none" stroke="#1a1a1a" stroke-width="0.85" stroke-linejoin="round"/>
<path d="M234.2,171.7 L232.5,175 L227.5,173.3 L225,166.7 L222,160 L220.8,155.8" fill="none" stroke="#1a1a1a" stroke-width="0.85" stroke-linejoin="round"/>
<path d="M200,172.5 L203.3,173.3 L205.8,175.8 L213.3,178.3 L220,178.3 L223.3,182.5 L226.7,187.5 L229,191.7 L230,196.7" fill="none" stroke="#1a1a1a" stroke-width="0.85" stroke-linejoin="round"/>
<path d="M195,180 L199,185 L200,191.7 L208.3,194 L212.5,200 L215.8,206.7 L215.8,211.7 L219,216.7" fill="none" stroke="#1a1a1a" stroke-width="0.85" stroke-linejoin="round"/>
<path d="M187.5,216.7 L190,221.7 L196.7,217.5 L201.7,219 L208.3,217.5 L213.3,216.7 L219,216.7 L227.5,215.8 L233,220 L233.7,222" fill="none" stroke="#1a1a1a" stroke-width="0.85" stroke-linejoin="round"/>
<path d="M235,190.8 L230.8,195 L228.3,203.3 L227.5,215.8" fill="none" stroke="#1a1a1a" stroke-width="0.85" stroke-linejoin="round"/>
<path d="M261.7,201.7 L261.7,208.3 L259,216.7 L260.8,225 L261.7,227 L258.3,232 L253.3,238.7 L248.3,242.5" fill="none" stroke="#1a1a1a" stroke-width="0.85" stroke-linejoin="round"/>
<path d="M263.3,175.5 L286.7,175.3" fill="none" stroke="#1a1a1a" stroke-width="0.85" stroke-linejoin="round"/>
<path d="M214.2,222 L215,230.3 L218.3,237 L219.2,243.7 L220.8,252 L220,259.5" fill="none" stroke="#1a1a1a" stroke-width="0.85" stroke-linejoin="round"/>
<path d="M233.7,222 L233.7,259.5" fill="none" stroke="#1a1a1a" stroke-width="0.85" stroke-linejoin="round"/>
<path d="M233.7,248.7 L248.3,248.7" fill="none" stroke="#1a1a1a" stroke-width="0.85" stroke-linejoin="round"/>
<path d="M248.3,242.5 L248.3,310 L255,310.8" fill="none" stroke="#1a1a1a" stroke-width="0.85" stroke-linejoin="round"/>
<path d="M248.3,242.3 L263.3,242.3 L270.8,234.2 L275.8,231.7" fill="none" stroke="#1a1a1a" stroke-width="0.85" stroke-linejoin="round"/>
<path d="M205.3,259.5 L233.7,259.5" fill="none" stroke="#1a1a1a" stroke-width="0.85" stroke-linejoin="round"/>
<path d="M205.3,259.5 L205.3,291" fill="none" stroke="#1a1a1a" stroke-width="0.85" stroke-linejoin="round"/>
<path d="M185.8,262 L190,266 L195.8,271.2 L200.8,273.7 L205.8,276.2 L209.2,277 L210.8,281.2 L216.7,284.5 L223.3,287.8 L231.7,289.5 L238.3,289.5 L243.3,291.2 L248.3,294.5" fill="none" stroke="#1a1a1a" stroke-width="0.85" stroke-linejoin="round"/>
<path d="M175.8,312.5 L180,311.7 L182.5,308.3 L189.2,305 L190.8,300.8 L197.5,296.7 L200.8,293.3 L205.3,291" fill="none" stroke="#1a1a1a" stroke-width="0.85" stroke-linejoin="round"/>
<path d="M173.5,322.5 L233.3,322.5" fill="none" stroke="#1a1a1a" stroke-width="0.85" stroke-linejoin="round"/>
<path d="M174.5,364.5 L212,364.5" fill="none" stroke="#1a1a1a" stroke-width="0.85" stroke-linejoin="round"/>
<path d="M290.8,166.7 L288.3,170 L286.7,176.7 L285.8,183.3 L282.5,190 L281.7,200 L279.2,206.7 L275.8,211.7 L272.5,216.7 L271.7,221.7 L273.3,228.3 L275.8,231.7 L281.7,235 L288.3,238.3 L291.7,240" fill="none" stroke="#1a1a1a" stroke-width="0.85" stroke-linejoin="round"/>
<path d="M281.7,200 L286.7,198.3 L292.5,199.2 L296.7,202.5" fill="none" stroke="#1a1a1a" stroke-width="0.85" stroke-linejoin="round"/>
<path d="M313.7,169.2 L315,175 L315.8,177.5" fill="none" stroke="#1a1a1a" stroke-width="0.85" stroke-linejoin="round"/>
<path d="M357.5,92.2 L351.7,99.7 L348.3,108 L343.3,114.7 L339.2,118.8 L335.8,122.2 L332.5,127.2 L330,132.2" fill="none" stroke="#1a1a1a" stroke-width="0.85" stroke-linejoin="round"/>
<path d="M339.2,118.8 L345,118 L353.3,118.8 L360,121.3 L366.7,122.2 L370,128 L372.5,134.7 L374.2,139.7 L380,141" fill="none" stroke="#1a1a1a" stroke-width="0.85" stroke-linejoin="round"/>
<path d="M334.2,156.5 L341.7,158 L350,159.8 L355,161 L357.5,156.5 L363,154.8 L368.3,156 L372.5,154.7 L376.7,153.8" fill="none" stroke="#1a1a1a" stroke-width="0.85" stroke-linejoin="round"/>
<path d="M334.2,165 L340,165.8 L346.7,167.5 L353.3,170 L358.3,174.2 L363.3,178.3 L368.3,180 L366.7,185 L365,188.3" fill="none" stroke="#1a1a1a" stroke-width="0.85" stroke-linejoin="round"/>
<path d="M390.8,98 L393.3,106.3 L395.8,113 L397.5,118.8 L400,121.3 L405,119.7 L409.2,117.2 L413.3,118.8 L415.8,120.5" fill="none" stroke="#1a1a1a" stroke-width="0.85" stroke-linejoin="round"/>
<path d="M410,116.3 L418.3,113.8 L428.3,111.3 L433.3,108.8 L436.7,103.8 L438.3,98 L440,93" fill="none" stroke="#1a1a1a" stroke-width="0.85" stroke-linejoin="round"/>
<path d="M438.3,100.5 L443.3,103 L446.7,103.8" fill="none" stroke="#1a1a1a" stroke-width="0.85" stroke-linejoin="round"/>
<path d="M386,91 L390.8,98" fill="none" stroke="#1a1a1a" stroke-width="0.85" stroke-linejoin="round"/>
<path d="M372.5,92.2 L375.8,94.7 L377,92" fill="none" stroke="#1a1a1a" stroke-width="0.85" stroke-linejoin="round"/>
<path d="M200.8,91 L203.3,98 L205.8,104.7 L208.3,113 L210.8,121 L215,118.8 L220,113.8 L224.2,109.7 L226.7,111.3 L232,112.5 L240,112.5 L248,112.5 L255.5,112.8" fill="none" stroke="#000" stroke-width="1.35" stroke-linejoin="round"/>
<path d="M210.8,121 L208,128 L205,136 L203.5,141 L204,145.5 L202.5,151 L204.2,158.3 L205,164 L200.8,166.7 L199,172.5 L195,180 L191.7,188.3 L190.8,198.3 L187.5,203.3 L185.8,210 L187.5,216.7 L188.3,222 L190,227 L192.5,232 L191.7,238.7 L189.2,245.3 L186.7,252 L185,261.2 L180.8,265.3 L180,273.7 L182.5,280.3 L182,287 L180,290 L176.7,295 L175.8,301.7 L174.2,308.3 L175,315 L173.3,322.5 L172.3,327.3 L173.8,334.6 L178,340.4 L180.4,349 L176.7,352 L178,358 L173.8,365 L176.7,369.6 L173,377 L169.4,382.8 L168,390 L168.7,396 L169.4,400 L161,411 L170,415 L171,425 L175,428 L196,428.6" fill="none" stroke="#000" stroke-width="1.35" stroke-linejoin="round"/>
<path d="M202.5,435 L202.5,459" fill="none" stroke="#000" stroke-width="1.35" stroke-linejoin="round"/>
<path d="M261.7,91.3 L258.3,103 L256.7,113" fill="none" stroke="#000" stroke-width="1.35" stroke-linejoin="round"/>
<path d="M256.7,113 L259,119.7 L263.3,126.3 L270,131.3 L278.3,133 L285,138 L291.7,141.3 L297.5,144.7 L300.8,148.8 L297.5,154.7 L294.2,158.3 L290.8,166.7" fill="none" stroke="#000" stroke-width="1.35" stroke-linejoin="round"/>
<path d="M290.8,166.7 L298.3,168 L305.8,169.7 L311.7,168.7 L316.7,166.7 L320.8,164.2 L324.2,160.8 L325.8,156.7 L326.7,150 L327.5,148.8" fill="none" stroke="#000" stroke-width="1.35" stroke-linejoin="round"/>
<path d="M295,91.3 L296.7,98 L296.7,104.7 L295.8,112.2 L303.3,113.8 L310,113 L315,117.2 L317.5,123.8 L319.2,132.2 L323.3,133 L327.5,131.3 L329.2,135.5 L328.3,143 L327.5,148.8" fill="none" stroke="#000" stroke-width="1.35" stroke-linejoin="round"/>
<path d="M327.5,148.8 L331.7,149.7 L333.3,154.7 L333.3,156.7 L334.2,165 L330,167.5 L325,170.8 L320,174.2 L315.8,177.5 L311.7,183.3 L307.5,190 L302.5,195.8 L299.2,199.2 L296.7,202.5 L297.5,205 L295.8,213.3 L295,221.7 L292.5,230 L291.7,236.7 L292.5,240.8" fill="none" stroke="#000" stroke-width="1.35" stroke-linejoin="round"/>
<path d="M299.2,199.2 L304.2,197.5 L308.3,200 L312.5,204.2 L315,207.5 L319.2,206.7 L323.3,210.8 L327.5,214.2 L331.7,217.5 L334.2,219.2 L336.7,223.3 L340,224.2" fill="none" stroke="#000" stroke-width="1.35" stroke-linejoin="round"/>
<path d="M339,226 L335,230 L335.8,234.2 L337,236" fill="none" stroke="#000" stroke-width="1.35" stroke-linejoin="round"/>
<path d="M189,90 L188.5,104 L187.5,121 L185,124.5 L186.7,129.5 L185.5,146 L184.2,150 L181.7,166.7 L178.3,183.3 L175.8,200 L175,216.7 L175,222 L174.2,232 L172.5,240.3 L170.8,248.7 L167.5,255 L165,262 L163.5,270 L159,275 L160,287.5 L161.3,297.5 L157.5,307.5 L156.5,316 L161,319 L164.3,320 L166.5,327 L165.8,330 L164.6,337.7 L162.6,342.8 L162,349 L160.7,355.5 L159.5,360.6 L156.9,366.5 L155,365.8 L150,365 L146,368.3 L141,372 L143.5,375.3 L147.3,373.6 L152.8,374.9 L152.4,376.5 L157.5,381 L162,386 L162.6,391.3 L157.5,392 L158.8,401 L159.5,408.7 L162,415 L169,416.3 L170.3,424 L174.1,427.8 L176,432.5 L181,434.5 L188,434 L195,433 L200,432.5 L205,433 L197.5,424 L196,416.5 L200,408.5 L208,405 L211,398.5 L220,391 L227.5,384 L225,376 L215,372.5 L212.5,365 L215,360 L216.7,358.3 L221.7,355.8 L228.3,353.3 L230.8,349.2 L231.7,343.3 L233.3,337.5 L237.5,333.3 L235,330.8 L239.2,330 L242.5,332 L245.8,330.8 L247,327.5 L245.8,324.2 L242.5,325 L239.2,326.7 L235,325 L233.3,321.7 L233.3,313.3 L245,312 L257,310 L258,305 L260,297.5 L258,289.5 L262.5,291.3 L272.5,290 L282.5,287.5 L295,283.5 L300.8,278.3 L305,273.3 L308.3,268.3 L307.5,263.3 L302.5,260.8 L301.7,256.7 L304.2,253.3 L300.8,250 L296.7,246.7 L292.5,244.2 L291.3,241.5 L295,241.7 L300,243.3 L306.7,245 L311.7,247.5 L315.8,246.7 L321.7,247.5 L326.7,245.8 L331.7,242.5 L336.7,236.7 L343.3,230 L348.3,223.3 L351.7,215.8 L358.3,208.3 L363.3,200 L366.7,193.3 L370,187.5 L372.5,184.5 L377.5,178 L380.5,170.5 L378.3,161.3 L377.5,154.7 L379.2,149.7 L382.5,145.5 L385.8,141.3 L391.7,137.2 L397.5,133 L403.3,131.3 L408.3,128.8 L411.7,125.5 L416.7,123.8 L423.3,122.2 L428.3,121.3 L437.5,121.3 L438.3,117.2 L442.5,112.2 L446.7,104.7 L450,98 L451.7,90Z" fill="none" stroke="#000" stroke-width="1.35" stroke-linejoin="round"/>
<path d="M203,434.5 L196.5,435 L193.5,437.3 L189.8,438.8 L187.5,441 L188.5,444 L192,443.8 L195.5,443 L196,445 L192,446 L190.5,448 L190,452 L192,455.5 L197,457.5 L202,458.8 L210,459.8 L222,459.8 L231.8,458.3 L233.5,457 L229,455.5 L224,453.8 L219,451.6 L214,449 L209,445.5 L204.5,442 L203.5,437Z" fill="none" stroke="#000" stroke-width="1.35" stroke-linejoin="round"/>
<path d="M153,322 L157,320.5 L159.5,323 L159,330 L157,336.5 L153.5,337 L152,332 L152.5,326Z" fill="none" stroke="#000" stroke-width="1.35" stroke-linejoin="round"/>
<path d="M172.5,433 L180,435 L183.5,436 L183,441 L181,446.5 L176,447 L171,444 L168,439 L169,435Z" fill="none" stroke="#000" stroke-width="1.35" stroke-linejoin="round"/>
<path d="M236,457.3 L245,456.8 L245,458.6 L236,459.2Z" fill="#000" stroke="#000" stroke-width="1"/>
<path d="M268,426 L268.7,428 L272,430.7 L275.3,430.4 L277.3,428.7 L280.7,428.7 L282,431.3 L284.7,432.7 L288,431.3 L290.7,428.7 L294.7,426.7 L298.3,425.3 L298.7,422.7 L296,421 L291.3,420.3 L288,421.3 L285.3,422 L282.7,420.3 L278.7,420 L275.3,420.7 L272,421 L273.3,423.3 L271.3,426 L269.3,425.3Z" fill="#000" stroke="#000" stroke-width="0.8" stroke-linejoin="round"/><path d="M276,423.7 L280,422.9 L281,424.7 L278.3,426.7 L276,426.4Z M287.7,422.4 L291.3,422 L293,424 L290.7,426 L288,425.3Z M282.7,427.3 L286,426.4 L287,428.3 L285,430 L283,429.6Z M272,428 L275.3,427.3 L276,428.7 L273.7,429.6Z" fill="#c8c8c8"/><path d="M281.5,422 L283.5,425.5 L281.8,427.5" stroke="#496c8e" stroke-width="0.9" fill="none"/><path d="M470.7,449.4 Q480,450.5 486,454 T491.8,458.6" stroke="#000" stroke-width="3" fill="none" stroke-linecap="round"/><path d="M478,451.2 L483.5,452.8" stroke="#00ffff" stroke-width="1.2" fill="none"/><path d="M483.5,452.8 L489,456.6" stroke="#0091ff" stroke-width="1.2" fill="none"/><path d="M354.2,196.7 L355.8,200 L360.8,198.3 L361.7,200.8 L358.3,206.7 L353.3,211.7 L348.3,216.7 L346.7,218.3 L347.5,214.2 L351.7,208.3 L355,203.3Z" fill="#496c8e" stroke="#000" stroke-width="1.6" stroke-linejoin="round"/><path d="M339.6,222 L342.5,222.5 L341.8,225.8 L339.2,225.5Z" fill="#496c8e"/><path d="M437.5,121 L428,121.3 L423,122.3 L416.5,124 L412,125.5" stroke="#000" stroke-width="2.6" fill="none" stroke-linecap="round"/><circle cx="427.3" cy="119.7" r="1.6" fill="#000"/><circle cx="407.7" cy="131.2" r="1.9" fill="#000"/><circle cx="399" cy="133.5" r="1.1" fill="#000"/><path d="M383,144 L380,148.5 L378,152 L377.8,160.5" stroke="#000" stroke-width="2.6" fill="none" stroke-linecap="round"/><path d="M257,288.8 L259.3,290.5 L258.5,296 L259.5,300 L258,305.5 L258.5,309.5" stroke="#000" stroke-width="3" fill="none" stroke-linejoin="round" stroke-linecap="round"/>
<ellipse cx="252.65" cy="211.6" rx="73.75" ry="101.8" fill="none" stroke="#e83d7d" stroke-width="5.2"/>
<path d="M348.5,299.9 L419.6,349.6" stroke="#e83d7d" stroke-width="5" fill="none"/>
<path d="M332.4,288.6 L359.4,292.6 L345.4,312.6Z" fill="#e83d7d"/>
</g>
<rect x="409.5" y="465.8" width="132" height="15" fill="#fff"/>
<rect x="58" y="91" width="484" height="390" fill="none" stroke="#000" stroke-width="2"/>
<rect x="47.5" y="497" width="38.9" height="13.5" fill="#00ffff" stroke="#000" stroke-width="1.5"/>
<rect x="86.4" y="497" width="38.9" height="13.5" fill="#0091ff" stroke="#000" stroke-width="1.5"/>
<rect x="125.3" y="497" width="38.9" height="13.5" fill="#0000ff" stroke="#000" stroke-width="1.5"/>
<rect x="164.2" y="497" width="38.9" height="13.5" fill="#00ff00" stroke="#000" stroke-width="1.5"/>
<rect x="203.1" y="497" width="38.9" height="13.5" fill="#00aa00" stroke="#000" stroke-width="1.5"/>
<rect x="242" y="497" width="38.9" height="13.5" fill="#006e00" stroke="#000" stroke-width="1.5"/>
<rect x="280.9" y="497" width="38.9" height="13.5" fill="#003200" stroke="#000" stroke-width="1.5"/>
<rect x="319.8" y="497" width="38.9" height="13.5" fill="#ffff00" stroke="#000" stroke-width="1.5"/>
<rect x="358.7" y="497" width="38.9" height="13.5" fill="#ff8c00" stroke="#000" stroke-width="1.5"/>
<rect x="397.6" y="497" width="38.9" height="13.5" fill="#ff0000" stroke="#000" stroke-width="1.5"/>
<rect x="436.5" y="497" width="38.9" height="13.5" fill="#be0050" stroke="#000" stroke-width="1.5"/>
<rect x="475.4" y="497" width="38.9" height="13.5" fill="#ff00ff" stroke="#000" stroke-width="1.5"/>
<rect x="514.3" y="497" width="38.9" height="13.5" fill="#a050c8" stroke="#000" stroke-width="1.5"/>
<path d="M47.5,497 L8,503.75 L47.5,510.5Z" fill="#c8c8c8" stroke="#000" stroke-width="1.3" stroke-linejoin="miter"/>
<path d="M553.2,497 L592.5,503.75 L553.2,510.5Z" fill="#fff" stroke="#000" stroke-width="1.3" stroke-linejoin="miter"/>
</svg>
<svg width="600" height="548" viewBox="0 0 600 548" style="font-family:'Liberation Sans',sans-serif;fill:#000;will-change:transform;transform:translateZ(0)">
<text x="55.6" y="28.1" font-size="19.5" letter-spacing="-1">GEFS</text>
<text x="117.5" y="28.1" font-size="19.5" letter-spacing="1.67">Precipitation</text>
<text x="258" y="28.1" font-size="19.5" letter-spacing="1.64">Forecast:</text>
<text x="365" y="28.1" font-size="19.5" letter-spacing="1.66">Ensemble</text>
<text x="476.5" y="28.1" font-size="19.5" letter-spacing="1.28">Median</text>
<text x="74.2" y="48.7" font-size="16.4" letter-spacing="0.02">Day</text>
<text x="116" y="48.7" font-size="16.4" letter-spacing="0.88">2:</text>
<text x="142.8" y="48.7" font-size="16.4" letter-spacing="-0.02">00UTC</text>
<text x="208" y="48.7" font-size="16.4" letter-spacing="-1">31</text>
<text x="238.8" y="48.7" font-size="16.4" letter-spacing="1.03">Oct</text>
<text x="277.8" y="48.7" font-size="16.4" letter-spacing="1.88">2024</text>
<text x="334" y="48.7" font-size="16.4" letter-spacing="0">&#8211;</text>
<text x="355.8" y="48.7" font-size="16.4" letter-spacing="0.2">00UTC</text>
<text x="421.5" y="48.7" font-size="16.4" letter-spacing="0">1</text>
<text x="441.4" y="48.7" font-size="16.4" letter-spacing="0.07">Nov</text>
<text x="483.2" y="48.7" font-size="16.4" letter-spacing="2.02">2024</text>
<text x="147.6" y="77.7" font-size="15" letter-spacing="1.29">Model</text>
<text x="203" y="77.7" font-size="15" letter-spacing="1.08">Initialized</text>
<text x="288.3" y="77.7" font-size="15" letter-spacing="0.08">00UTC</text>
<text x="349" y="77.7" font-size="15" letter-spacing="1.36">29</text>
<text x="380" y="77.7" font-size="15" letter-spacing="-0.58">Oct</text>
<text x="414.7" y="77.7" font-size="15" letter-spacing="1.96">2024</text>
<text x="412" y="477.6" font-size="13.3" letter-spacing="0">&#169;</text>
<text x="425.8" y="477.6" font-size="13.3" letter-spacing="-0.6">World</text>
<text x="466.3" y="477.6" font-size="13.3" letter-spacing="-1">Ag</text>
<text x="488.8" y="477.6" font-size="13.3" letter-spacing="-0.31">Weather</text>
<text x="288" y="537.6" font-size="13.3" letter-spacing="2.6">mm</text>
<text x="48.1" y="523" font-size="13.2" text-anchor="middle" stroke="#000" stroke-width="0.45" letter-spacing="0.7">2</text>
<text x="87" y="523" font-size="13.2" text-anchor="middle" stroke="#000" stroke-width="0.45" letter-spacing="0.7">5</text>
<text x="125.9" y="523" font-size="13.2" text-anchor="middle" stroke="#000" stroke-width="0.45" letter-spacing="0.7">10</text>
<text x="164.8" y="523" font-size="13.2" text-anchor="middle" stroke="#000" stroke-width="0.45" letter-spacing="0.7">15</text>
<text x="203.7" y="523" font-size="13.2" text-anchor="middle" stroke="#000" stroke-width="0.45" letter-spacing="0.7">25</text>
<text x="242.6" y="523" font-size="13.2" text-anchor="middle" stroke="#000" stroke-width="0.45" letter-spacing="0.7">35</text>
<text x="281.5" y="523" font-size="13.2" text-anchor="middle" stroke="#000" stroke-width="0.45" letter-spacing="0.7">50</text>
<text x="320.4" y="523" font-size="13.2" text-anchor="middle" stroke="#000" stroke-width="0.45" letter-spacing="0.7">65</text>
<text x="359.3" y="523" font-size="13.2" text-anchor="middle" stroke="#000" stroke-width="0.45" letter-spacing="0.7">80</text>
<text x="398.2" y="523" font-size="13.2" text-anchor="middle" stroke="#000" stroke-width="0.45" letter-spacing="0.7">100</text>
<text x="437.1" y="523" font-size="13.2" text-anchor="middle" stroke="#000" stroke-width="0.45" letter-spacing="0.7">125</text>
<text x="476" y="523" font-size="13.2" text-anchor="middle" stroke="#000" stroke-width="0.45" letter-spacing="0.7">150</text>
<text x="514.9" y="523" font-size="13.2" text-anchor="middle" stroke="#000" stroke-width="0.45" letter-spacing="0.7">200</text>
<text x="553.8" y="523" font-size="13.2" text-anchor="middle" stroke="#000" stroke-width="0.45" letter-spacing="0.7">250</text>
</svg>
</body></html>
